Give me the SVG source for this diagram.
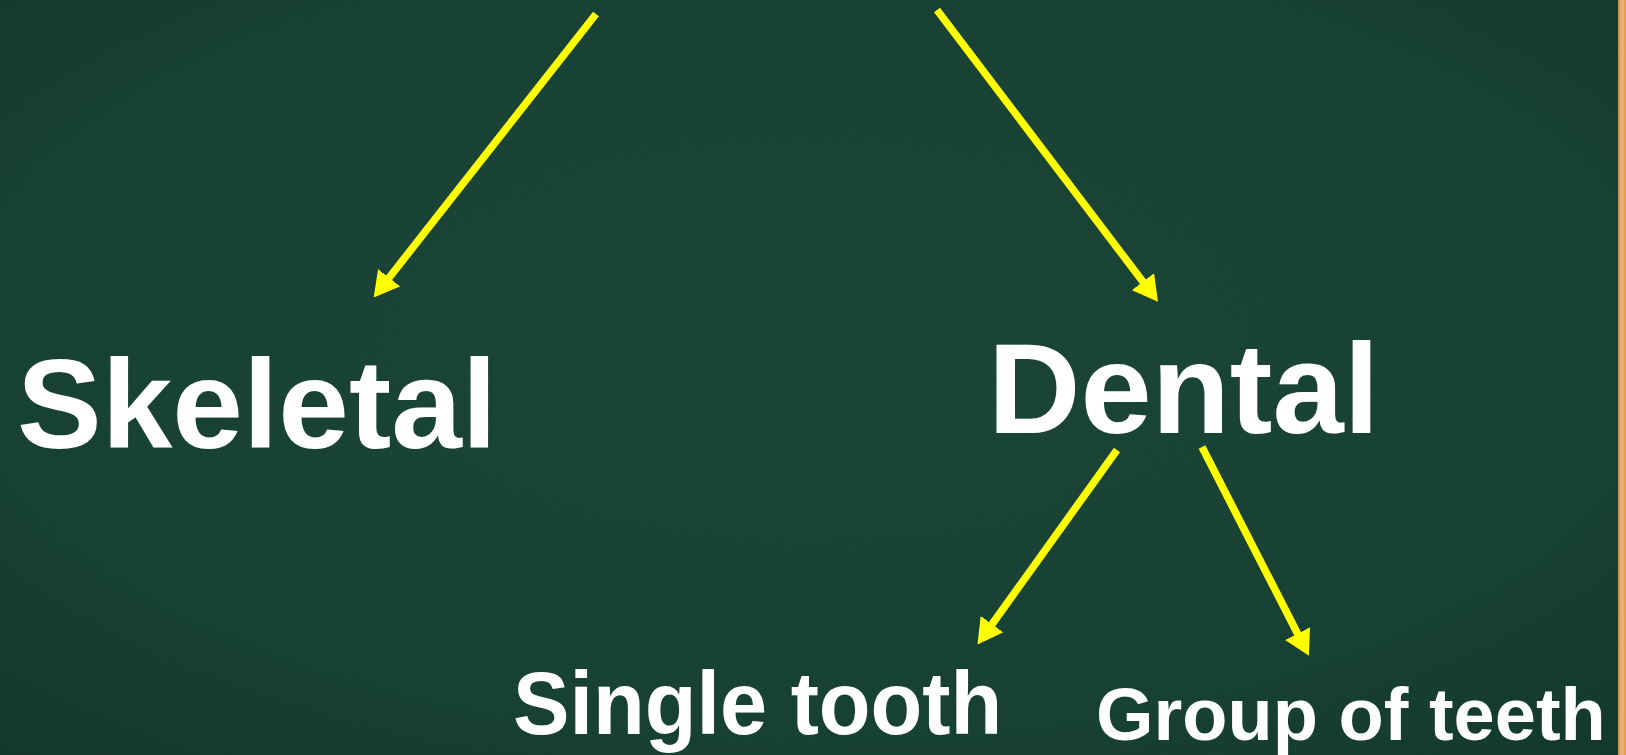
<svg xmlns="http://www.w3.org/2000/svg" width="1626" height="755" viewBox="0 0 1626 755">
  <style>
    .lbl { font-family: "Liberation Sans", Arial, sans-serif; font-weight: bold; fill: #ffffff; }
    .arrow { stroke: #ffff00; stroke-width: 7.5; fill: none; marker-end: url(#head); }
  </style>
  <defs>
    <radialGradient id="board" cx="0.5" cy="0.45" r="0.75">
      <stop offset="0" stop-color="#1a4536"/>
      <stop offset="0.7" stop-color="#164033"/>
      <stop offset="1" stop-color="#11372a"/>
    </radialGradient>
    <linearGradient id="wood" x1="0" y1="0" x2="1" y2="0">
      <stop offset="0" stop-color="#c98a4e"/>
      <stop offset="0.5" stop-color="#f0b878"/>
      <stop offset="1" stop-color="#d99a5c"/>
    </linearGradient>
    <filter id="chalk" x="0" y="0" width="100%" height="100%">
      <feTurbulence type="fractalNoise" baseFrequency="0.9" numOctaves="2" seed="3" result="n"/>
      <feColorMatrix type="matrix" values="0 0 0 0 1  0 0 0 0 1  0 0 0 0 1  0 0 0 0.1 -0.03"/>
    </filter>
    <marker id="head" markerUnits="userSpaceOnUse" markerWidth="25" markerHeight="28" viewBox="0 0 25 28" refX="1" refY="14" orient="auto">
      <path d="M0,0 L25,14 L0,28 z" fill="#ffff00"/>
    </marker>
  </defs>

  <rect x="0" y="0" width="1626" height="755" fill="url(#board)"/>
  <rect x="0" y="0" width="1618" height="755" filter="url(#chalk)" opacity="0.3"/>
  <rect x="1618" y="0" width="8" height="755" fill="url(#wood)"/>

  <g id="connectors">
    <line class="arrow" x1="596" y1="14" x2="388.5" y2="278.5"/>
    <line class="arrow" x1="937" y1="10" x2="1143.5" y2="282.5"/>
    <line class="arrow" x1="1117" y1="450" x2="991.5" y2="625"/>
    <line class="arrow" x1="1202" y1="447" x2="1298" y2="634.5"/>
  </g>

  <g id="node-skeletal">
    <text class="lbl" x="17" y="448" font-size="127">Skeletal</text>
  </g>
  <g id="node-dental">
    <text class="lbl" x="988" y="433" font-size="128">Dental</text>
  </g>
  <g id="node-single-tooth">
    <text class="lbl" x="513" y="734" font-size="86" transform="translate(513 734) scale(0.985 1.04) translate(-513 -734)">Single tooth</text>
  </g>
  <g id="node-group-of-teeth">
    <text class="lbl" x="1096" y="740" font-size="74">Group of teeth</text>
  </g>
</svg>
